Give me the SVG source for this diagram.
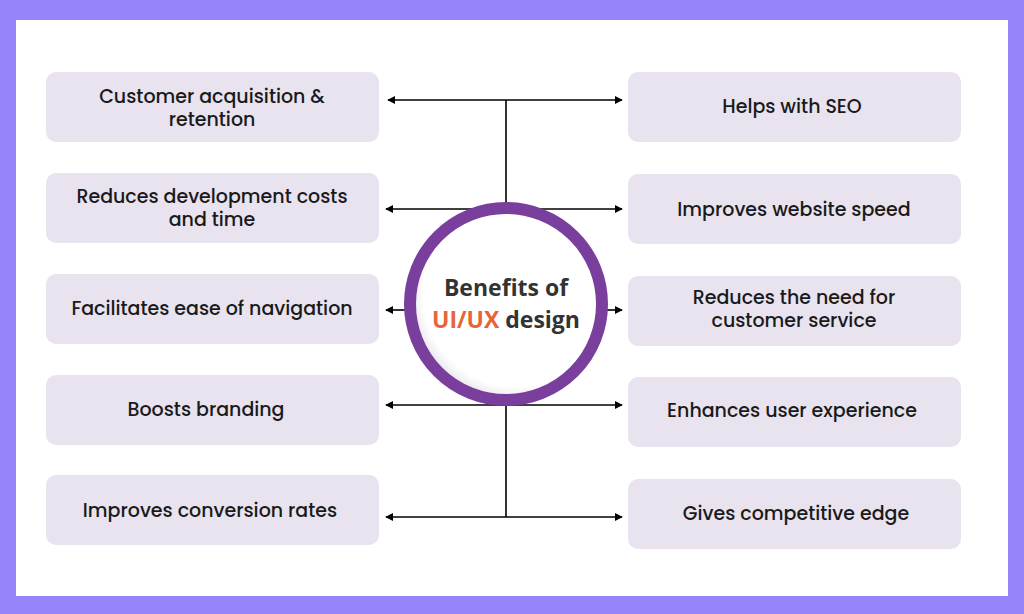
<svg xmlns="http://www.w3.org/2000/svg" width="1024" height="614" viewBox="0 0 1024 614">
<defs>
<marker id="ah" viewBox="0 0 10 10" refX="9" refY="5" markerWidth="8" markerHeight="8" markerUnits="userSpaceOnUse" orient="auto-start-reverse">
<path d="M0,0 L10,5 L0,10 z" fill="#000"/>
</marker>
<radialGradient id="inner" cx="0.55" cy="0.45" r="0.6">
<stop offset="0.8" stop-color="#ffffff"/>
<stop offset="1" stop-color="#d9d4e0"/>
</radialGradient>
<style>
.box{fill:#E8E3EF}
.t{font-family:"Poppins","Noto Sans","Open Sans",sans-serif;font-size:19px;fill:#1a1a1a;text-anchor:middle;font-weight:500}
.c{stroke:#000;stroke-width:1.6;fill:none}
.ct{font-family:"Open Sans","Noto Sans",sans-serif;font-weight:700;font-size:23px;fill:#333;text-anchor:middle}
</style>
</defs>
<rect width="1024" height="614" fill="#9584FB"/>
<rect x="16" y="20" width="992" height="576" fill="#fff"/>

<g id="connectors">
<line class="c" x1="506" y1="100" x2="388" y2="100" marker-end="url(#ah)"/>
<line class="c" x1="506" y1="100" x2="622" y2="100" marker-end="url(#ah)"/>
<line class="c" x1="506" y1="100" x2="506" y2="209"/>
<line class="c" x1="506" y1="209" x2="386" y2="209" marker-end="url(#ah)"/>
<line class="c" x1="506" y1="209" x2="622" y2="209" marker-end="url(#ah)"/>
<line class="c" x1="410" y1="310" x2="386" y2="310" marker-end="url(#ah)"/>
<line class="c" x1="600" y1="310" x2="622" y2="310" marker-end="url(#ah)"/>
<line class="c" x1="506" y1="405" x2="386" y2="405" marker-end="url(#ah)"/>
<line class="c" x1="506" y1="405" x2="622" y2="405" marker-end="url(#ah)"/>
<line class="c" x1="506" y1="405" x2="506" y2="517"/>
<line class="c" x1="506" y1="517" x2="386" y2="517" marker-end="url(#ah)"/>
<line class="c" x1="506" y1="517" x2="622" y2="517" marker-end="url(#ah)"/>
</g>

<g id="center">
<circle cx="506" cy="304" r="96" fill="url(#inner)" stroke="#7A3E9D" stroke-width="12"/>
<text class="ct" x="506" y="296">Benefits of</text>
<text class="ct" x="506" y="328"><tspan fill="#E8643A">UI/UX</tspan> design</text>
</g>

<g id="n1"><rect class="box" x="46" y="72" width="333" height="70" rx="10"/><text class="t" x="212" y="103">Customer acquisition &amp;</text><text class="t" x="212" y="126">retention</text></g>
<g id="n2"><rect class="box" x="46" y="173" width="333" height="70" rx="10"/><text class="t" x="212" y="203">Reduces development costs</text><text class="t" x="212" y="226">and time</text></g>
<g id="n3"><rect class="box" x="46" y="274" width="333" height="70" rx="10"/><text class="t" x="212" y="315">Facilitates ease of navigation</text></g>
<g id="n4"><rect class="box" x="46" y="375" width="333" height="70" rx="10"/><text class="t" x="206" y="416">Boosts branding</text></g>
<g id="n5"><rect class="box" x="46" y="475" width="333" height="70" rx="10"/><text class="t" x="210" y="517">Improves conversion rates</text></g>

<g id="n6"><rect class="box" x="628" y="72" width="333" height="70" rx="10"/><text class="t" x="792" y="113">Helps with SEO</text></g>
<g id="n7"><rect class="box" x="628" y="174" width="333" height="70" rx="10"/><text class="t" x="794" y="216">Improves website speed</text></g>
<g id="n8"><rect class="box" x="628" y="276" width="333" height="70" rx="10"/><text class="t" x="794" y="304">Reduces the need for</text><text class="t" x="794" y="327">customer service</text></g>
<g id="n9"><rect class="box" x="628" y="377" width="333" height="70" rx="10"/><text class="t" x="792" y="417">Enhances user experience</text></g>
<g id="n10"><rect class="box" x="628" y="479" width="333" height="70" rx="10"/><text class="t" x="796" y="520">Gives competitive edge</text></g>
</svg>
